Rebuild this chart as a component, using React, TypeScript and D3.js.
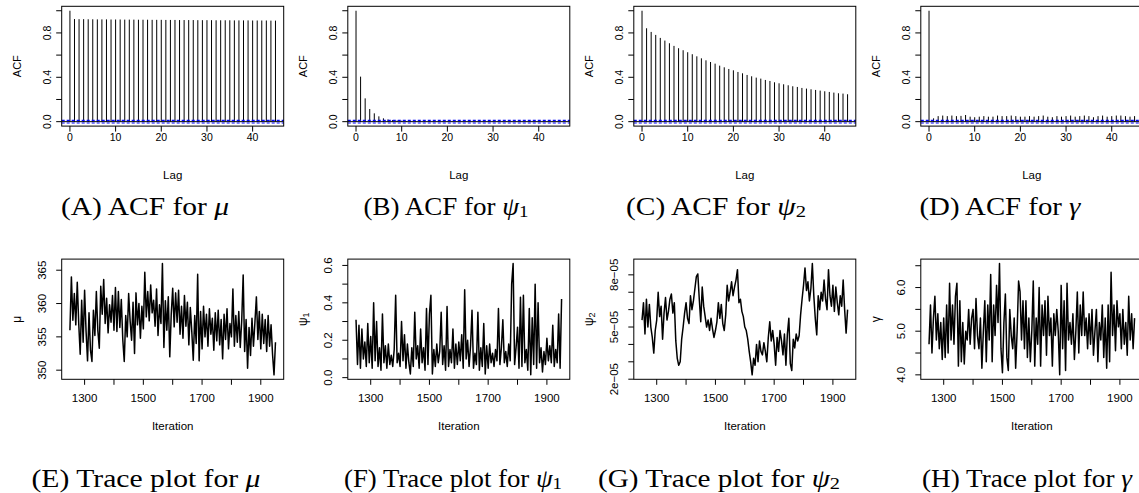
import React from "react";
import * as d3 from "d3";

// ---------------- data ----------------
const LAGS = d3.range(0, 46);
const ACF_X_TICKS = [0, 10, 20, 30, 40];
const ACF_Y_TICKS = [0, 0.2, 0.4, 0.6, 0.8, 1.0];
const ACF_Y_LABELS = [0, 0.4, 0.8];
const ACF_CI = 0.012;

const ACF_MU = [1.0, 0.925, 0.924, 0.924, 0.923, 0.923, 0.922, 0.922, 0.922, 0.921,
  0.921, 0.921, 0.920, 0.920, 0.920, 0.919, 0.919, 0.919, 0.918, 0.918,
  0.918, 0.917, 0.917, 0.917, 0.916, 0.916, 0.916, 0.916, 0.915, 0.915,
  0.915, 0.915, 0.914, 0.914, 0.914, 0.914, 0.913, 0.913, 0.913, 0.913,
  0.912, 0.912, 0.912, 0.912, 0.911, 0.911];
const ACF_PSI1 = [1.0, 0.406, 0.21, 0.114, 0.075, 0.048, 0.03, 0.02, 0.014, 0.01,
  0.008, 0.006, 0.005, 0.004, 0.004, 0.003, 0.003, 0.002, 0.002, 0.002,
  0.002, 0.002, 0.001, 0.001, 0.001, 0.001, 0.001, 0.001, 0.001, 0.001,
  0.002, 0.002, 0.003, 0.003, 0.003, 0.002, 0.002, 0.001, 0.001, 0.001,
  0.001, 0.001, 0.001, 0.001, 0.001, 0.001];
const ACF_PSI2 = [1.0, 0.842, 0.809, 0.782, 0.755, 0.731, 0.707, 0.683, 0.662, 0.644,
  0.626, 0.608, 0.589, 0.571, 0.553, 0.538, 0.523, 0.505, 0.490, 0.475,
  0.463, 0.448, 0.436, 0.421, 0.409, 0.397, 0.388, 0.376, 0.367, 0.355,
  0.346, 0.337, 0.328, 0.319, 0.313, 0.304, 0.298, 0.292, 0.286, 0.280,
  0.274, 0.268, 0.262, 0.256, 0.253, 0.247];
const ACF_GAMMA = [1.0, 0.030, 0.050, 0.055, 0.050, 0.055, 0.050, 0.052, 0.060, 0.045,
  0.040, 0.045, 0.050, 0.045, 0.045, 0.055, 0.050, 0.050, 0.055, 0.050,
  0.045, 0.045, 0.050, 0.045, 0.050, 0.055, 0.045, 0.040, 0.050, 0.045,
  0.050, 0.055, 0.045, 0.050, 0.055, 0.050, 0.040, 0.050, 0.055, 0.045,
  0.050, 0.055, 0.055, 0.050, 0.045, 0.050];

const ITER_START = 1250;
const ITER_STEP = 5;
const TRACE_X_TICKS = [1300, 1400, 1500, 1600, 1700, 1800, 1900];
const TRACE_X_LABELS = [1300, 1500, 1700, 1900];

const MU_TRACE = [356.0, 364.0, 357.5, 361.5, 356.8, 363.2, 357.0, 352.4, 360.5, 354.2,
  362.0, 355.8, 351.4, 358.6, 353.0, 351.3, 359.0, 355.2, 361.8, 356.0,
  353.3, 362.6, 358.4, 363.6, 357.0, 360.8, 355.6, 359.8, 357.2, 361.2,
  356.0, 362.4, 355.8, 361.8, 356.4, 360.6, 354.6, 351.3, 358.2, 355.0,
  361.5, 357.4, 354.5, 360.2, 352.5, 361.6, 356.8, 360.0, 354.8, 359.6,
  356.2, 364.7, 358.0, 361.8, 357.4, 362.8, 358.6, 360.5, 356.6, 362.2,
  355.2, 359.8, 357.0, 366.0, 353.4, 360.4, 356.0, 361.0, 352.0, 358.4,
  362.3, 356.5, 361.6, 357.2, 362.0, 355.4, 359.6, 354.8, 361.2, 356.6,
  360.2, 353.8, 359.4, 355.8, 351.5, 358.2, 354.0, 364.4, 351.4, 358.8,
  353.2, 359.6, 355.0, 358.4, 353.6, 359.2, 355.4, 357.8, 353.0, 358.6,
  354.4, 359.0, 353.8, 357.6, 351.7, 358.4, 354.6, 359.2, 353.2, 357.0,
  355.0, 362.2, 353.6, 358.2, 354.2, 358.8, 353.4, 357.4, 364.3, 352.8,
  357.6, 350.3, 356.4, 352.2, 357.8, 353.6, 357.2, 361.0, 354.6, 358.8,
  353.2, 358.4, 354.0, 357.6, 352.8, 358.2, 353.6, 356.8, 352.4, 349.3,
  354.2];
const MU_Y_TICKS = [350, 355, 360, 365];
const MU_Y_LABELS = [350, 355, 360, 365];

const PSI1_TRACE = [0.31, 0.07, 0.28, 0.05, 0.26, 0.10, 0.19, 0.06, 0.29, 0.08,
  0.22, 0.05, 0.40, 0.09, 0.30, 0.06, 0.16, 0.04, 0.34, 0.08,
  0.17, 0.05, 0.18, 0.07, 0.12, 0.06, 0.15, 0.44, 0.08, 0.13,
  0.06, 0.30, 0.09, 0.23, 0.05, 0.18, 0.08, 0.02, 0.16, 0.06,
  0.35, 0.10, 0.17, 0.05, 0.26, 0.08, 0.16, 0.04, 0.37, 0.07,
  0.34, 0.44, 0.02, 0.15, 0.06, 0.18, 0.08, 0.14, 0.35, 0.07,
  0.17, 0.04, 0.38, 0.06, 0.15, 0.08, 0.26, 0.05, 0.18, 0.07,
  0.19, 0.09, 0.23, 0.05, 0.47, 0.10, 0.20, 0.06, 0.17, 0.36,
  0.05, 0.13, 0.07, 0.35, 0.04, 0.16, 0.06, 0.29, 0.02, 0.17,
  0.05, 0.18, 0.08, 0.13, 0.06, 0.15, 0.09, 0.37, 0.07, 0.16,
  0.31, 0.08, 0.14, 0.06, 0.18, 0.09, 0.50, 0.61, 0.07, 0.16,
  0.27, 0.05, 0.43, 0.06, 0.44, 0.08, 0.15, 0.04, 0.37, 0.015,
  0.32, 0.07, 0.50, 0.05, 0.40, 0.08, 0.16, 0.03, 0.14, 0.07,
  0.21, 0.09, 0.17, 0.08, 0.28, 0.06, 0.15, 0.08, 0.34, 0.05,
  0.42];
const PSI1_Y_TICKS = [0, 0.1, 0.2, 0.3, 0.4, 0.5, 0.6];
const PSI1_Y_LABELS = [0, 0.2, 0.4, 0.6];

// psi2 values in units of 1e-05
const PSI2_TRACE_E5 = [5.4, 6.4, 4.6, 6.6, 5.0, 6.3, 5.0, 4.4, 3.5, 4.8,
  5.4, 7.0, 5.6, 6.2, 4.3, 5.8, 6.7, 5.4, 5.9, 6.6,
  6.9, 5.8, 6.4, 4.2, 3.2, 2.8, 3.0, 4.3, 5.0, 5.8,
  6.4, 5.5, 5.2, 6.8, 6.0, 6.5, 7.2, 7.9, 8.05, 6.6,
  5.3, 7.3, 6.2, 5.6, 5.0, 5.4, 4.8, 5.5, 4.9, 4.4,
  4.8, 5.3, 6.4, 5.5, 6.3, 5.2, 4.8, 5.7, 7.4, 6.5,
  7.0, 7.6, 6.8, 7.3, 7.7, 8.3, 6.4, 6.6, 5.9, 5.6,
  5.0, 4.8, 4.3, 3.6, 3.0, 2.25, 3.2, 2.8, 4.0, 3.0,
  4.2, 3.6, 3.4, 4.1, 3.6, 3.0, 4.4, 5.3, 4.2, 4.8,
  4.0, 2.8, 4.4, 3.6, 4.8, 4.2, 3.4, 4.6, 2.8, 4.6,
  5.5, 2.9, 2.5, 4.3, 3.8, 4.6, 4.2, 4.5, 5.7, 6.6,
  7.4, 8.4, 7.1, 7.6, 6.5, 7.2, 8.65, 6.8, 5.5, 4.55,
  6.8, 6.0, 7.0, 6.5, 7.7, 6.6, 6.0, 8.3, 6.8, 6.2,
  7.4, 5.9, 7.3, 6.4, 5.7, 6.8, 6.2, 7.7, 6.0, 4.65,
  6.0];
const PSI2_Y_TICKS_E5 = [2, 3, 4, 5, 6, 7, 8];
const PSI2_Y_LABELS_E5 = [2, 5, 8];

const GAMMA_TRACE = [4.7, 5.6, 4.5, 5.3, 5.8, 4.8, 5.4, 4.6, 5.2, 4.35,
  5.3, 4.4, 5.6, 4.5, 6.1, 4.8, 5.6, 4.7, 5.8, 6.1,
  4.2, 5.7, 4.3, 5.2, 4.25, 5.0, 4.8, 5.5, 4.7, 5.3,
  5.5, 4.6, 5.75, 4.9, 4.6, 5.3, 4.15, 5.0, 5.7, 4.3,
  5.6, 4.8, 6.3, 4.3, 5.6, 4.9, 6.05, 5.2, 6.55, 4.6,
  4.05, 5.2, 5.85, 4.4, 4.1, 5.5, 4.9, 4.6, 5.3, 4.15,
  5.0, 6.15, 5.9, 4.8, 5.7, 4.6, 5.7, 4.4, 5.3, 4.3,
  5.0, 6.15, 4.2, 5.3, 4.7, 6.0, 4.2, 5.6, 4.9, 5.7,
  4.45, 5.8, 4.9, 5.3, 4.2, 5.4, 4.9, 5.5, 5.0, 4.0,
  6.05, 4.6, 5.7, 4.1, 6.1, 4.8, 5.2, 4.7, 5.4, 4.35,
  5.0, 5.9, 4.5, 5.6, 4.9, 5.9, 4.9, 5.3, 4.6, 5.4,
  4.7, 5.5, 4.45, 5.0, 5.5, 4.3, 5.2, 4.8, 5.6, 4.4,
  5.3, 4.15, 5.6, 4.3, 6.35, 4.9, 5.6, 4.55, 5.7, 5.1,
  5.4, 4.6, 5.5, 4.7, 5.2, 4.45, 5.8, 4.8, 5.4, 4.6,
  5.3];
const GAMMA_Y_TICKS = [4.0, 4.5, 5.0, 5.5, 6.0, 6.5];
const GAMMA_Y_LABELS = [4.0, 5.0, 6.0];

// ---------------- layout ----------------
const WIDTH = 1139;
const HEIGHT = 493;
const COL_LEFT = [61.7, 347.8, 633.8, 920.8];
const BOX_W = 222;
const ACF_TOP = 6.3;
const ACF_BOTTOM = 126.1;
const TR_TOP = 259.1;
const TR_BOTTOM = 379.3;
const TICK = 5.5;
const SANS = "'Liberation Sans', Arial, Helvetica, sans-serif";
const SERIF = "'Liberation Serif', 'Times New Roman', serif";
// caption centres and widths
const ACF_CAP_CX = [145, 446, 716, 1000];
const ACF_CAP_W = [168, 165, 180, 161];
const TR_CAP_CX = [146, 453, 719, 1027];
const TR_CAP_W = [229, 218, 242, 210];
const ACF_CAP_Y = 206;
const TR_CAP_Y = 478;

const f1 = d3.format(".1f");

function AcfPanel({ col, values, ylab }: { col: number; values: number[]; ylab: string }) {
  const left = COL_LEFT[col];
  const x = d3.scaleLinear().domain([-1.8, 46.8]).range([left, left + BOX_W]);
  const y = d3.scaleLinear().domain([-0.04, 1.04]).range([ACF_BOTTOM, ACF_TOP]);
  return (
    <g>
      {LAGS.map((lag, i) => (
        <line key={lag} x1={x(lag)} x2={x(lag)} y1={y(0)} y2={y(values[i])} stroke="#000" strokeWidth={1} />
      ))}
      <line x1={left} x2={left + BOX_W} y1={y(0)} y2={y(0)} stroke="#000" strokeWidth={1} />
      {[ACF_CI, -ACF_CI].map((c) => (
        <line key={c} x1={left} x2={left + BOX_W} y1={y(c)} y2={y(c)} stroke="#0000ff" strokeWidth={1.2} strokeDasharray="3 2" />
      ))}
      <rect x={left} y={ACF_TOP} width={BOX_W} height={ACF_BOTTOM - ACF_TOP} fill="none" stroke="#000" strokeWidth={1} />
      {ACF_X_TICKS.map((t) => (
        <g key={t}>
          <line x1={x(t)} x2={x(t)} y1={ACF_BOTTOM} y2={ACF_BOTTOM + TICK} stroke="#000" />
          <text x={x(t)} y={ACF_BOTTOM + 11} dominantBaseline="central" textAnchor="middle" fontSize={10.5} fontFamily={SANS}>{t}</text>
        </g>
      ))}
      {ACF_Y_TICKS.map((t) => (
        <line key={t} x1={left - TICK} x2={left} y1={y(t)} y2={y(t)} stroke="#000" />
      ))}
      {ACF_Y_LABELS.map((t) => (
        <text key={t} transform={`translate(${left - 15},${y(t)}) rotate(-90)`} dominantBaseline="central" textAnchor="middle" fontSize={10.5} fontFamily={SANS}>{f1(t)}</text>
      ))}
      <text x={left + BOX_W / 2} y={174.5} dominantBaseline="central" textAnchor="middle" fontSize={11.5} fontFamily={SANS}>Lag</text>
      <text transform={`translate(${left - 45},${(ACF_TOP + ACF_BOTTOM) / 2}) rotate(-90)`} dominantBaseline="central" textAnchor="middle" fontSize={11} fontFamily={SANS}>{ylab}</text>
    </g>
  );
}

function TracePanel({ col, values, yTicks, yLabels, fmt, ylab }: {
  col: number; values: number[]; yTicks: number[]; yLabels: number[]; fmt: (v: number) => string; ylab: React.ReactNode;
}) {
  const left = COL_LEFT[col];
  const iters = values.map((_, i) => ITER_START + i * ITER_STEP);
  const x0 = iters[0];
  const x1 = iters[iters.length - 1];
  const xp = (x1 - x0) * 0.04;
  const x = d3.scaleLinear().domain([x0 - xp, x1 + xp]).range([left, left + BOX_W]);
  const [mn, mx] = d3.extent(values) as [number, number];
  const yp = (mx - mn) * 0.04;
  const y = d3.scaleLinear().domain([mn - yp, mx + yp]).range([TR_BOTTOM, TR_TOP]);
  const path = d3.line<number>().x((_, i) => x(iters[i])).y((d) => y(d))(values) || "";
  return (
    <g>
      <path d={path} fill="none" stroke="#000" strokeWidth={1.5} strokeLinejoin="round" />
      <rect x={left} y={TR_TOP} width={BOX_W} height={TR_BOTTOM - TR_TOP} fill="none" stroke="#000" strokeWidth={1} />
      {TRACE_X_TICKS.map((t) => (
        <line key={t} x1={x(t)} x2={x(t)} y1={TR_BOTTOM} y2={TR_BOTTOM + TICK} stroke="#000" />
      ))}
      {TRACE_X_LABELS.map((t) => (
        <text key={t} x={x(t)} y={TR_BOTTOM + 19} dominantBaseline="central" textAnchor="middle" fontSize={11.5} fontFamily={SANS}>{t}</text>
      ))}
      {yTicks.map((t) => (
        <line key={t} x1={left - TICK} x2={left} y1={y(t)} y2={y(t)} stroke="#000" />
      ))}
      {yLabels.map((t) => (
        <text key={t} transform={`translate(${left - 19.5},${y(t)}) rotate(-90)`} dominantBaseline="central" textAnchor="middle" fontSize={11.5} fontFamily={SANS}>{fmt(t)}</text>
      ))}
      <text x={left + BOX_W / 2} y={425.5} dominantBaseline="central" textAnchor="middle" fontSize={11.5} fontFamily={SANS}>Iteration</text>
      <text transform={`translate(${left - 45},${(TR_TOP + TR_BOTTOM) / 2}) rotate(-90)`} dominantBaseline="central" textAnchor="middle" fontSize={12} fontFamily={SANS}>{ylab}</text>
    </g>
  );
}

function Caption({ cx, w, y, label, children }: { cx: number; w: number; y: number; label: string; children: React.ReactNode }) {
  return (
    <text x={cx} y={y} textAnchor="middle" dominantBaseline="central" fontSize={25} fontFamily={SERIF}
      textLength={w} lengthAdjust="spacingAndGlyphs">
      {label}
      {children}
    </text>
  );
}

const Sub = ({ c }: { c: string }) => (
  <tspan fontSize="70%" dy="0.3em">{c}</tspan>
);

export default function App() {
  const e5 = (v: number) => `${v}e\u221205`;
  return (
    <svg width={WIDTH} height={HEIGHT} style={{ position: "absolute", left: 0, top: 0, background: "#fff" }}>
      <rect x={0} y={0} width={WIDTH} height={HEIGHT} fill="#fff" />
      <AcfPanel col={0} values={ACF_MU} ylab="ACF" />
      <AcfPanel col={1} values={ACF_PSI1} ylab="ACF" />
      <AcfPanel col={2} values={ACF_PSI2} ylab="ACF" />
      <AcfPanel col={3} values={ACF_GAMMA} ylab="ACF" />

      <TracePanel col={0} values={MU_TRACE} yTicks={MU_Y_TICKS} yLabels={MU_Y_LABELS} fmt={(v) => String(v)} ylab="μ" />
      <TracePanel col={1} values={PSI1_TRACE} yTicks={PSI1_Y_TICKS} yLabels={PSI1_Y_LABELS} fmt={f1} ylab={<tspan>ψ<tspan fontSize="75%" dy="0.3em">1</tspan></tspan>} />
      <TracePanel col={2} values={PSI2_TRACE_E5} yTicks={PSI2_Y_TICKS_E5} yLabels={PSI2_Y_LABELS_E5} fmt={e5} ylab={<tspan>ψ<tspan fontSize="75%" dy="0.3em">2</tspan></tspan>} />
      <TracePanel col={3} values={GAMMA_TRACE} yTicks={GAMMA_Y_TICKS} yLabels={GAMMA_Y_LABELS} fmt={f1} ylab="γ" />

      <Caption cx={ACF_CAP_CX[0]} w={ACF_CAP_W[0]} y={ACF_CAP_Y} label="(A) ACF for "><tspan fontStyle="italic">μ</tspan></Caption>
      <Caption cx={ACF_CAP_CX[1]} w={ACF_CAP_W[1]} y={ACF_CAP_Y} label="(B) ACF for "><tspan fontStyle="italic">ψ</tspan><Sub c="1" /></Caption>
      <Caption cx={ACF_CAP_CX[2]} w={ACF_CAP_W[2]} y={ACF_CAP_Y} label="(C) ACF for "><tspan fontStyle="italic">ψ</tspan><Sub c="2" /></Caption>
      <Caption cx={ACF_CAP_CX[3]} w={ACF_CAP_W[3]} y={ACF_CAP_Y} label="(D) ACF for "><tspan fontStyle="italic">γ</tspan></Caption>
      <Caption cx={TR_CAP_CX[0]} w={TR_CAP_W[0]} y={TR_CAP_Y} label="(E) Trace plot for "><tspan fontStyle="italic">μ</tspan></Caption>
      <Caption cx={TR_CAP_CX[1]} w={TR_CAP_W[1]} y={TR_CAP_Y} label="(F) Trace plot for "><tspan fontStyle="italic">ψ</tspan><Sub c="1" /></Caption>
      <Caption cx={TR_CAP_CX[2]} w={TR_CAP_W[2]} y={TR_CAP_Y} label="(G) Trace plot for "><tspan fontStyle="italic">ψ</tspan><Sub c="2" /></Caption>
      <Caption cx={TR_CAP_CX[3]} w={TR_CAP_W[3]} y={TR_CAP_Y} label="(H) Trace plot for "><tspan fontStyle="italic">γ</tspan></Caption>
    </svg>
  );
}
